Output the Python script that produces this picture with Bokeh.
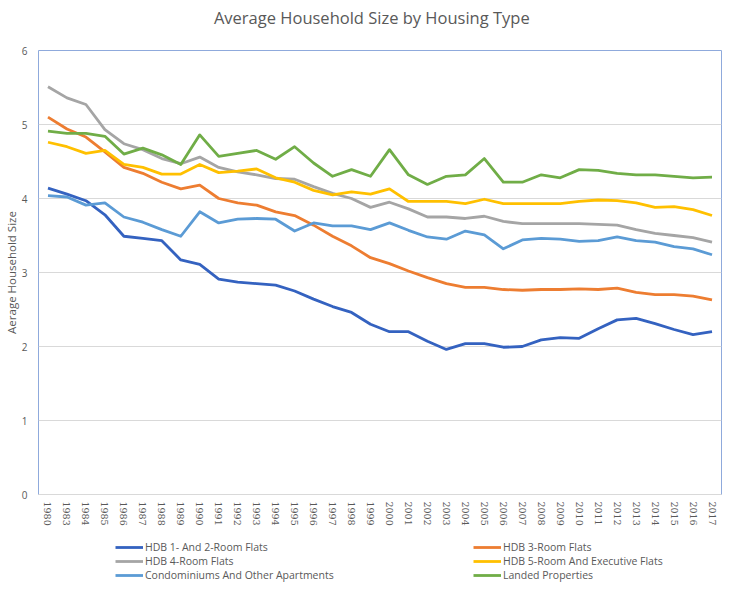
from bokeh.plotting import figure
from bokeh.models import ColumnDataSource, Legend, LegendItem, FixedTicker, Label
from bokeh.layouts import column
from bokeh.embed import file_html
from bokeh.resources import INLINE

years = ["1980", "1983", "1984", "1985", "1986", "1987", "1988", "1989", "1990",
         "1991", "1992", "1993", "1994", "1995", "1996", "1997", "1998", "1999",
         "2000", "2001", "2002", "2003", "2004", "2005", "2006", "2007", "2008",
         "2009", "2010", "2011", "2012", "2013", "2014", "2015", "2016", "2017"]

hdb_1_2_room = [4.14, 4.06, 3.97, 3.78, 3.49, 3.46, 3.43, 3.17, 3.11, 2.91, 2.87, 2.85,
                2.83, 2.75, 2.64, 2.54, 2.46, 2.30, 2.20, 2.20, 2.07, 1.96, 2.04, 2.04,
                1.99, 2.00, 2.09, 2.12, 2.11, 2.24, 2.36, 2.38, 2.31, 2.23, 2.16, 2.20]
hdb_3_room = [5.10, 4.94, 4.83, 4.63, 4.42, 4.34, 4.22, 4.13, 4.18, 4.00, 3.94, 3.91,
              3.82, 3.77, 3.64, 3.49, 3.36, 3.20, 3.12, 3.02, 2.93, 2.85, 2.80, 2.80,
              2.77, 2.76, 2.77, 2.77, 2.78, 2.77, 2.79, 2.73, 2.70, 2.70, 2.68, 2.63]
hdb_4_room = [5.51, 5.36, 5.27, 4.93, 4.74, 4.66, 4.54, 4.47, 4.56, 4.42, 4.36, 4.32,
              4.27, 4.26, 4.16, 4.07, 4.00, 3.88, 3.95, 3.86, 3.75, 3.75, 3.73, 3.76,
              3.69, 3.66, 3.66, 3.66, 3.66, 3.65, 3.64, 3.58, 3.53, 3.50, 3.47, 3.41]
hdb_5_room_exec = [4.76, 4.70, 4.61, 4.65, 4.46, 4.42, 4.33, 4.33, 4.46, 4.35, 4.37, 4.40,
                   4.28, 4.22, 4.11, 4.05, 4.09, 4.06, 4.13, 3.96, 3.96, 3.96, 3.93, 3.99,
                   3.93, 3.93, 3.93, 3.93, 3.96, 3.98, 3.97, 3.94, 3.88, 3.89, 3.85, 3.77]
condominiums = [4.04, 4.02, 3.91, 3.94, 3.75, 3.68, 3.58, 3.49, 3.82, 3.67, 3.72, 3.73,
                3.72, 3.56, 3.67, 3.63, 3.63, 3.58, 3.67, 3.57, 3.48, 3.45, 3.56, 3.51,
                3.32, 3.44, 3.46, 3.45, 3.42, 3.43, 3.48, 3.43, 3.41, 3.35, 3.32, 3.24]
landed = [4.91, 4.88, 4.88, 4.84, 4.60, 4.68, 4.59, 4.46, 4.86, 4.57, 4.61, 4.65,
          4.53, 4.70, 4.48, 4.30, 4.39, 4.30, 4.66, 4.32, 4.19, 4.30, 4.32, 4.54,
          4.22, 4.22, 4.32, 4.28, 4.39, 4.38, 4.34, 4.32, 4.32, 4.30, 4.28, 4.29]

series_names = ["HDB 1- And 2-Room Flats", "HDB 3-Room Flats", "HDB 4-Room Flats",
                "HDB 5-Room And Executive Flats", "Condominiums And Other Apartments",
                "Landed Properties"]
series_values = [hdb_1_2_room, hdb_3_room, hdb_4_room, hdb_5_room_exec, condominiums, landed]
colors = ["#3462C0", "#ED7D31", "#A5A5A5", "#FFC000", "#5B9BD5", "#70AD47"]
y_ticks = [0, 1, 2, 3, 4, 5, 6]
chart_title = "Average Household Size by Housing Type"
y_label = "Aerage Household Size"

FONT = "Open Sans"
TXT = "#595959"
FRAME_LEFT = 37
FRAME_RIGHT_BORDER = 10
W = 731

# ---- title strip ----
tf = figure(width=W, height=36, x_range=(0, 1), y_range=(0, 1),
            output_backend="svg", toolbar_location=None,
            min_border_left=FRAME_LEFT, min_border_right=FRAME_RIGHT_BORDER,
            min_border_top=0, min_border_bottom=0)
tf.axis.visible = False
tf.grid.grid_line_color = None
tf.outline_line_color = None
tf.add_layout(Label(x=0.488, y=0.53, text=chart_title, text_align="center",
                    text_baseline="middle", text_font=FONT, text_font_size="16.5px",
                    text_color=TXT))

# ---- main chart ----
p = figure(width=W, height=498, x_range=years, y_range=(0, 6),
           output_backend="svg", toolbar_location=None,
           min_border_left=FRAME_LEFT, min_border_right=FRAME_RIGHT_BORDER,
           min_border_top=14, min_border_bottom=40)

p.outline_line_color = "#8FAADC"
p.outline_line_width = 1

p.xgrid.grid_line_color = None
p.ygrid.grid_line_color = "#D9D9D9"
p.ygrid.grid_line_width = 1

p.yaxis.ticker = FixedTicker(ticks=y_ticks)
p.yaxis.axis_line_color = None
p.yaxis.major_tick_line_color = None
p.yaxis.minor_tick_line_color = None
p.yaxis.major_tick_out = 0
p.yaxis.minor_tick_out = 0
p.yaxis.major_label_text_font = FONT
p.yaxis.major_label_text_font_size = "10px"
p.yaxis.major_label_text_color = TXT
p.yaxis.major_label_standoff = 11
p.yaxis.axis_label = y_label
p.yaxis.axis_label_text_font = FONT
p.yaxis.axis_label_text_font_size = "11.5px"
p.yaxis.axis_label_text_font_style = "normal"
p.yaxis.axis_label_text_color = TXT
p.yaxis.axis_label_standoff = 0

p.xaxis.axis_line_color = "#D9D9D9"
p.xaxis.major_tick_line_color = None
p.xaxis.minor_tick_line_color = None
p.xaxis.major_tick_out = 0
p.xaxis.minor_tick_out = 0
p.xaxis.major_label_orientation = "vertical"
p.xaxis.major_label_text_font = "DejaVu Serif"
p.xaxis.major_label_text_font_size = "9.5px"
p.xaxis.major_label_text_color = TXT
p.xaxis.major_label_standoff = 7

for name, vals, col in zip(series_names, series_values, colors):
    src = ColumnDataSource(data=dict(x=years, y=vals))
    p.line("x", "y", source=src, line_color=col, line_width=2.8, line_join="round")

# ---- legend strip ----
lf = figure(width=W, height=48, x_range=(0, 1), y_range=(0, 1),
            output_backend="svg", toolbar_location=None,
            min_border_left=FRAME_LEFT, min_border_right=FRAME_RIGHT_BORDER,
            min_border_top=0, min_border_bottom=0)
lf.axis.visible = False
lf.grid.grid_line_color = None
lf.outline_line_color = None

legend_renderers = []
for col in colors:
    # placeholder renderer (outside visible range) used only for legend swatches
    r = lf.line(x=[5, 6], y=[5, 6], line_color=col, line_width=2.8)
    legend_renderers.append(r)

def make_legend(idx, x_off):
    return Legend(items=[LegendItem(label=series_names[i], renderers=[legend_renderers[i]]) for i in idx],
                  location=(x_off, 0), orientation="vertical",
                  glyph_width=28, glyph_height=12, label_height=12, spacing=0,
                  label_standoff=2, padding=0, margin=0,
                  border_line_color=None, background_fill_alpha=0,
                  label_text_font=FONT, label_text_font_size="10.5px", label_text_color=TXT)

lf.add_layout(make_legend([0, 2, 4], 114 - FRAME_LEFT), "center")
lf.add_layout(make_legend([1, 3, 5], 472 - FRAME_LEFT), "center")

layout = column(tf, p, lf, spacing=0)
open("out.html", "w").write(file_html(layout, INLINE))
